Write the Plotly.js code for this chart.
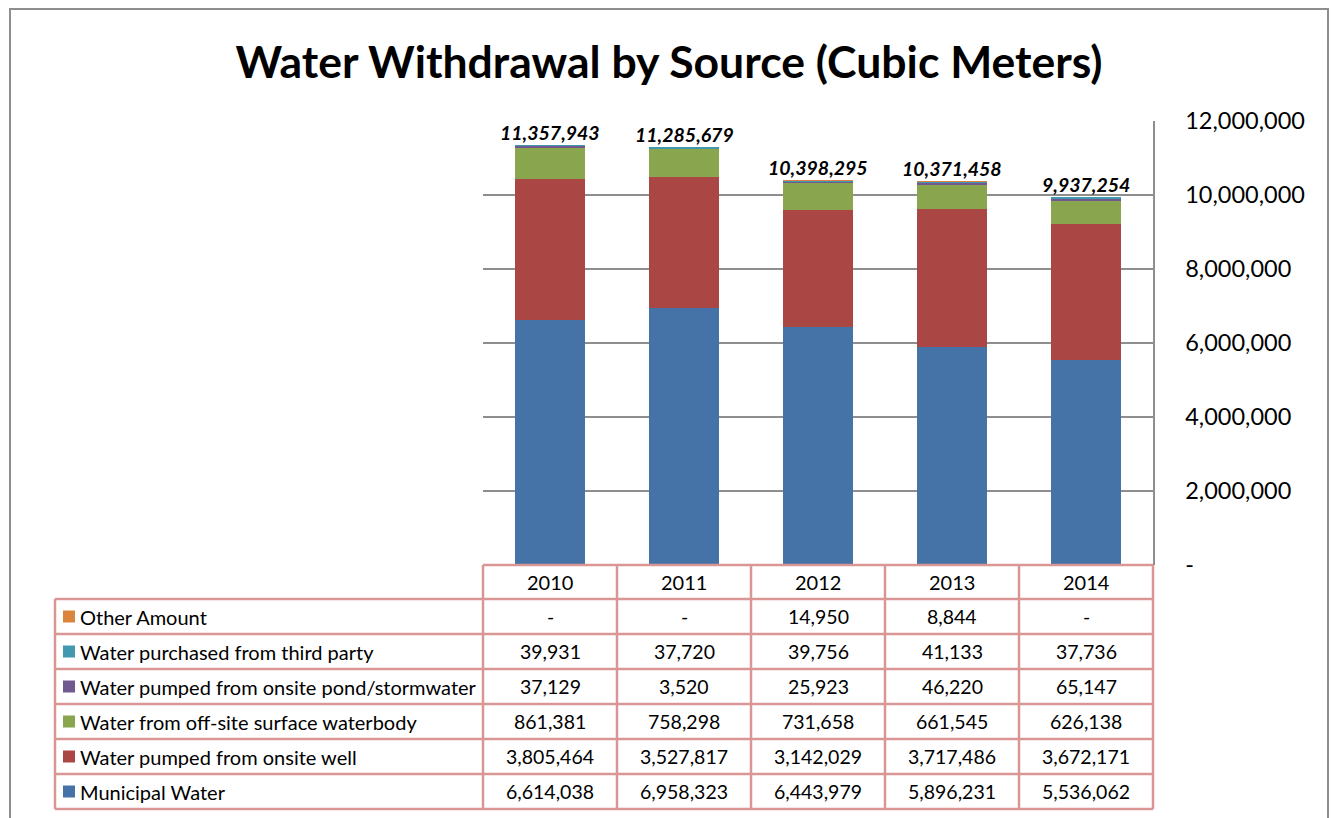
<!DOCTYPE html>
<html><head><meta charset="utf-8">
<script src="https://cdn.plot.ly/plotly-3.0.1.min.js"></script>
<style>html,body{margin:0;padding:0;background:#fff;overflow:hidden}</style>
</head><body><div id="chart" style="width:1332px;height:818px"></div>
<script>
// ---- data ----
const years = ['2010', '2011', '2012', '2013', '2014'];
const municipalWater = [6614038, 6958323, 6443979, 5896231, 5536062];
const onsiteWell = [3805464, 3527817, 3142029, 3717486, 3672171];
const offsiteSurface = [861381, 758298, 731658, 661545, 626138];
const onsitePond = [37129, 3520, 25923, 46220, 65147];
const thirdParty = [39931, 37720, 39756, 41133, 37736];
const otherAmount = [0, 0, 14950, 8844, 0];
// totals as printed above the bars in the source chart
const reportedTotals = [11357943, 11285679, 10398295, 10371458, 9937254];
const seriesNames = ['Municipal Water', 'Water pumped from onsite well', 'Water from off-site surface waterbody',
  'Water pumped from onsite pond/stormwater', 'Water purchased from third party', 'Other Amount'];
const seriesValues = [municipalWater, onsiteWell, offsiteSurface, onsitePond, thirdParty, otherAmount];
const seriesColors = ['#4572A7', '#AA4643', '#89A54E', '#71588F', '#4198AF', '#DB843D'];
const yTickVals = [0, 2000000, 4000000, 6000000, 8000000, 10000000, 12000000];

// ---- helpers ----
const FONT = 'Lato, "Open Sans", "DejaVu Sans", sans-serif';
const fmt = v => v === 0 ? '-' : v.toLocaleString('en-US');

// layout geometry (pixels)
const W = 1332, H = 818;
const PL = 483, PR = 1153, PT = 121, PB = 565;
const px = x => (x - PL) / (PR - PL);
const py = y => (PB - y) / (PB - PT);
const HEADER_H = 34, ROW_H = 35, LEGEND_LEFT = 55;
const tableBorder = '#DA9694';
const TABLE_FONT = 20;

const traces = seriesNames.map((name, k) => ({
  type: 'bar', name: name, x: years.map((_, i) => i), y: seriesValues[k],
  marker: {color: seriesColors[k], line: {width: 0}},
  width: 0.52, hoverinfo: 'skip', showlegend: false
}));

const shapes = [];
const annotations = [];

// outer chart border
shapes.push({type: 'rect', xref: 'paper', yref: 'paper', x0: px(10), x1: px(1328), y0: py(830), y1: py(9),
  line: {color: '#8E8E8E', width: 2}, layer: 'below'});

// totals above bars
years.forEach((yr, i) => {
  annotations.push({xref: 'x', yref: 'y', x: i, y: reportedTotals[i], text: '<b><i>' + fmt(reportedTotals[i]) + '</i></b>',
    showarrow: false, yanchor: 'bottom', yshift: -1, font: {family: FONT, size: 19.5, color: '#000'}});
});

// table geometry
const nRows = seriesNames.length;
const rowTop = PB + HEADER_H;
const tableBottom = rowTop + nRows * ROW_H;
const colEdge = j => j / years.length;

shapes.push({type: 'line', xref: 'paper', yref: 'paper', x0: 0, x1: 1, y0: py(PB), y1: py(PB), line: {color: tableBorder, width: 2.5}});
for (let r = 0; r <= nRows; r++) {
  const yy = rowTop + r * ROW_H;
  shapes.push({type: 'line', xref: 'paper', yref: 'paper', x0: px(LEGEND_LEFT), x1: 1, y0: py(yy), y1: py(yy), line: {color: tableBorder, width: 2.5}});
}
shapes.push({type: 'line', xref: 'paper', yref: 'paper', x0: px(LEGEND_LEFT), x1: px(LEGEND_LEFT), y0: py(rowTop), y1: py(tableBottom), line: {color: tableBorder, width: 2.5}});
for (let j = 0; j <= years.length; j++) {
  shapes.push({type: 'line', xref: 'paper', yref: 'paper', x0: colEdge(j), x1: colEdge(j), y0: py(PB), y1: py(tableBottom), line: {color: tableBorder, width: 2.5}});
}
years.forEach((yr, j) => {
  annotations.push({xref: 'paper', yref: 'paper', x: (j + 0.5) / years.length, y: py(PB + HEADER_H / 2),
    text: yr, showarrow: false, xanchor: 'center', yanchor: 'middle', font: {family: FONT, size: TABLE_FONT, color: '#000'}});
});
for (let r = 0; r < nRows; r++) {
  const k = nRows - 1 - r;
  const cy = rowTop + r * ROW_H + ROW_H / 2;
  shapes.push({type: 'rect', xref: 'paper', yref: 'paper', x0: px(63), x1: px(75), y0: py(cy + 6), y1: py(cy - 6),
    fillcolor: seriesColors[k], line: {width: 0}});
  annotations.push({xref: 'paper', yref: 'paper', x: px(78), y: py(cy), text: seriesNames[k], showarrow: false,
    xanchor: 'left', yanchor: 'middle', font: {family: FONT, size: TABLE_FONT, color: '#000'}});
  years.forEach((yr, j) => {
    annotations.push({xref: 'paper', yref: 'paper', x: (j + 0.5) / years.length, y: py(cy), text: fmt(seriesValues[k][j]),
      showarrow: false, xanchor: 'center', yanchor: 'middle', font: {family: FONT, size: 19.5, color: '#000'}});
  });
}

const layout = {
  width: W, height: H,
  margin: {l: PL, r: W - PR, t: PT, b: H - PB, pad: 0},
  paper_bgcolor: '#fff', plot_bgcolor: '#fff',
  barmode: 'stack',
  title: {text: '<b>Water Withdrawal by Source (Cubic Meters)</b>', x: 669 / W, xanchor: 'center', xref: 'container',
    y: 1 - 62 / H, yref: 'container', yanchor: 'middle', font: {family: FONT, size: 44.5, color: '#000'}},
  xaxis: {range: [-0.5, years.length - 0.5], showticklabels: false, ticks: '', showgrid: false, zeroline: false, showline: false, fixedrange: true},
  yaxis: {side: 'right', range: [0, 12000000], tickvals: yTickVals, ticktext: yTickVals.map(fmt),
    showgrid: true, gridcolor: '#8E8E8E', gridwidth: 1.5, zeroline: false,
    showline: true, linecolor: '#8E8E8E', linewidth: 1.5, ticks: '', ticklabelstandoff: 26,
    tickfont: {family: FONT, size: 23.5, color: '#000'}, fixedrange: true},
  shapes: shapes, annotations: annotations, showlegend: false
};

Plotly.newPlot('chart', traces, layout, {staticPlot: true, displayModeBar: false});
</script>
</body></html>
